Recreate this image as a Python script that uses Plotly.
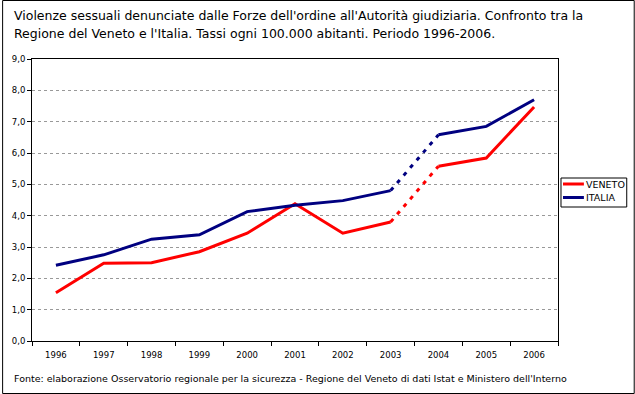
import plotly.graph_objects as go

years = ["1996", "1997", "1998", "1999", "2000", "2001", "2002", "2003", "2004", "2005", "2006"]
veneto = [1.54, 2.48, 2.50, 2.85, 3.44, 4.38, 3.44, 3.80, 5.58, 5.84, 7.47]
italia = [2.42, 2.75, 3.25, 3.39, 4.13, 4.33, 4.48, 4.80, 6.58, 6.85, 7.70]
series_names = ["VENETO", "ITALIA"]
series_colors = ["#FF0000", "#000080"]
title_lines = [
    "Violenze sessuali denunciate dalle Forze dell'ordine all'Autorità giudiziaria. Confronto tra la",
    "Regione del Veneto e l'Italia. Tassi ogni 100.000 abitanti. Periodo 1996-2006.",
]
source_text = ("Fonte: elaborazione Osservatorio regionale per la sicurezza - Regione del Veneto "
               "di dati Istat e Ministero dell'Interno")

W, H = 635, 394
L, R, T, B = 30, 558, 59, 341
PW, PH = R - L, B - T


def px_x(px):
    return (px - L) / PW


def px_y(py):
    return (B - py) / PH


FONT = "DejaVu Sans"
fig = go.Figure()

for name, vals, col in zip(series_names, [veneto, italia], series_colors):
    fig.add_trace(go.Scatter(x=years[:8], y=vals[:8], mode="lines",
                             line=dict(color=col, width=3), showlegend=False, name=name))
    fig.add_trace(go.Scatter(x=years[7:9], y=vals[7:9], mode="lines",
                             line=dict(color=col, width=3, dash="4px,6px"), showlegend=False, name=name))
    fig.add_trace(go.Scatter(x=years[8:], y=vals[8:], mode="lines",
                             line=dict(color=col, width=3), showlegend=False, name=name))

shapes = []
annotations = []
# outer border
shapes.append(dict(type="rect", xref="paper", yref="paper",
                   x0=px_x(0.5), x1=px_x(634.5), y0=px_y(393.5), y1=px_y(0.5),
                   line=dict(color="black", width=1), layer="below"))
# legend box
shapes.append(dict(type="rect", xref="paper", yref="paper",
                   x0=px_x(561), x1=px_x(627), y0=px_y(207), y1=px_y(178),
                   line=dict(color="black", width=1), fillcolor="white"))
for i, (name, col) in enumerate(zip(series_names, series_colors)):
    yy = 184 + i * 13.5
    shapes.append(dict(type="line", xref="paper", yref="paper",
                       x0=px_x(563), x1=px_x(584), y0=px_y(yy), y1=px_y(yy),
                       line=dict(color=col, width=3)))
    annotations.append(dict(xref="paper", yref="paper", x=px_x(584), y=px_y(yy),
                            xanchor="left", yanchor="middle", text=name, showarrow=False,
                            font=dict(family=FONT, size=9.5, color="black")))

for i, line in enumerate(title_lines):
    annotations.append(dict(xref="paper", yref="paper", x=px_x(10), y=px_y(15 + i * 19),
                            xanchor="left", yanchor="middle", text=line, showarrow=False,
                            font=dict(family=FONT, size=12.5, color="black")))
annotations.append(dict(xref="paper", yref="paper", x=px_x(10), y=px_y(378),
                        xanchor="left", yanchor="middle", text=source_text, showarrow=False,
                        font=dict(family=FONT, size=9.5, color="black")))

fig.update_layout(
    width=W, height=H,
    margin=dict(l=L, r=W - R, t=T, b=H - B, pad=0),
    paper_bgcolor="white", plot_bgcolor="white",
    separators=",.",
    showlegend=False,
    shapes=shapes, annotations=annotations,
    font=dict(family=FONT, size=8.5, color="black"),
    xaxis=dict(type="category", range=[-0.5, 10.5], showline=True, mirror=True,
               linecolor="black", linewidth=1, ticks="outside", tickson="boundaries",
               ticklen=4, tickcolor="black", showgrid=False, zeroline=False,
               ticklabelstandoff=6, tickfont=dict(family=FONT, size=8.5)),
    yaxis=dict(range=[0, 9], dtick=1, tickformat=".1f", showline=True, mirror=True,
               linecolor="black", linewidth=1, ticks="outside", ticklen=4, tickcolor="black",
               showgrid=True, gridcolor="#999999", griddash="3px,3px", gridwidth=1,
               zeroline=False, tickfont=dict(family=FONT, size=8.5)),
)

fig.write_html("out.html", config={"displayModeBar": False},
               post_script="document.body.style.margin='0';document.body.style.overflow='hidden';")
